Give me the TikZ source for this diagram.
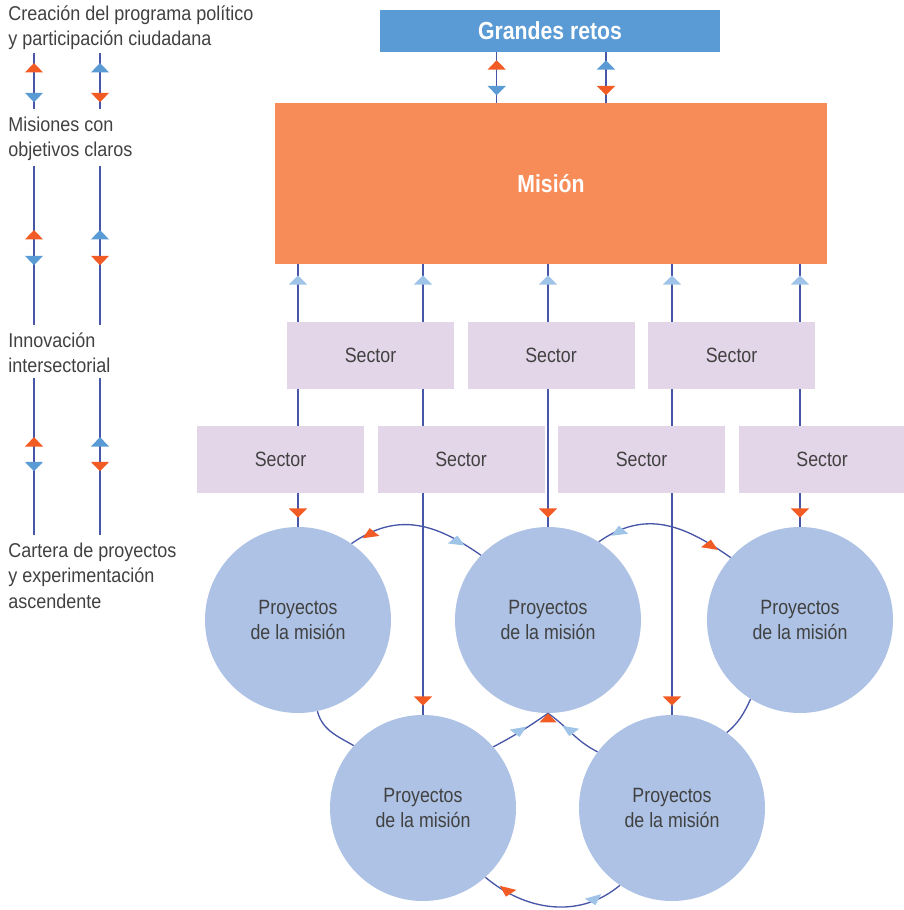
\documentclass[tikz,border=0pt]{standalone}
\usepackage{fontspec}
\setmainfont{Liberation Sans}[FakeStretch=0.86]
\usetikzlibrary{arrows.meta, positioning, backgrounds, decorations.markings}
\definecolor{retosblue}{RGB}{91,155,213}
\definecolor{misionorange}{RGB}{247,140,88}
\definecolor{sectorlila}{RGB}{228,214,233}
\definecolor{circleblue}{RGB}{173,194,228}
\definecolor{linkblue}{RGB}{72,86,168}
\definecolor{tipor}{RGB}{242,92,36}
\definecolor{tipblue}{RGB}{91,155,213}
\definecolor{tiplight}{RGB}{160,196,232}
\definecolor{textgray}{RGB}{65,65,65}

\tikzset{
	tri/.pic={\path[pic actions] (4.5,0) -- (-4.5,8.5) -- (-4.5,-8.5) -- cycle;}
}

\begin{document}
\begin{tikzpicture}[
	x=0.75pt, y=0.75pt,
	% boxes and circles
	retos/.style={
			rectangle,
			fill=retosblue,
			minimum width=255pt,
			minimum height=31.5pt,
			inner sep=0pt,
			text=white,
			font=\fontsize{18.5}{22}\selectfont\bfseries
		},
	mision/.style={
			rectangle,
			fill=misionorange,
			minimum width=414pt,
			minimum height=120.75pt,
			inner sep=0pt,
			text=white,
			font=\fontsize{18.5}{22}\selectfont\bfseries
		},
	sector/.style={
			rectangle,
			fill=sectorlila,
			minimum width=125.25pt,
			minimum height=50.25pt,
			inner sep=0pt,
			text=textgray,
			font=\fontsize{15.5}{19}\selectfont
		},
	proyecto/.style={
			circle,
			fill=circleblue,
			minimum size=139.5pt,
			inner sep=0pt,
			align=center,
			text=textgray,
			font=\fontsize{15.5}{18.75}\selectfont
		},
	side/.style={
			anchor=base west,
			align=left,
			inner sep=0pt,
			text=textgray,
			font=\addfontfeatures{FakeStretch=0.9}\fontsize{15}{19.1}\selectfont
		},
	% connectors
	link/.style={
			draw=linkblue,
			line width=1pt
		},
	twotips/.style n args={4}{
			postaction={decorate},
			decoration={markings,
					mark=at position #1 with {\arrowreversed{Triangle[width=13.5pt, length=7pt, color=#3]}},
					mark=at position #2 with {\arrow{Triangle[width=13.5pt, length=7pt, color=#4]}}}
		},
	downtips/.style={twotips={8.25pt}{-6.75pt}{tiplight}{tipor}}
	]

	\useasboundingbox (0,0) rectangle (903,-910);

	% left column labels (anchored at their last line)
	\node[side] (lab1) at (8,-45.7) {Creación del programa político\\y participación ciudadana};
	\node[side] (lab2) at (8,-156.7) {Misiones con\\objetivos claros};
	\node[side] (lab3) at (8,-372.7) {Innovación\\intersectorial};
	\node[side] (lab4) at (8,-608) {Cartera de proyectos\\y experimentación\\ascendente};
	\coordinate (colA) at (34,0);
	\coordinate (colB) at (100,0);

	% top and mission
	\node[retos] (retos) at (550,-31) {Grandes retos};
	\node[mision] (mision) at (551,-183.5) {Misión};

	% sector rows
	\node[sector] (s1) at (370.5,-355.5) {Sector};
	\node[sector, right=9.75pt of s1] (s2) {Sector};
	\node[sector, right=9.75pt of s2] (s3) {Sector};
	\node[sector] (t1) at (280.5,-459.5) {Sector};
	\node[sector, right=9.75pt of t1] (t2) {Sector};
	\node[sector, right=9.75pt of t2] (t3) {Sector};
	\node[sector, right=9.75pt of t3] (t4) {Sector};

	% mission projects
	\node[proyecto] (c1) at (298,-620) {Proyectos\\de la misión};
	\node[proyecto] (c2) at (548,-620) {Proyectos\\de la misión};
	\node[proyecto] (c3) at (800,-620) {Proyectos\\de la misión};
	\node[proyecto] (c4) at (423,-808) {Proyectos\\de la misión};
	\node[proyecto] (c5) at (672,-808) {Proyectos\\de la misión};

	\begin{scope}[on background layer]
		% left column
		\foreach \col/\ca/\cb in {colA/tipor/tipblue, colB/tipblue/tipor} {
				\draw[link, shorten <=2.25pt, shorten >=5.25pt, twotips={9.75pt}{39pt}{\ca}{\cb}] (\col |- lab1.south) -- (\col |- lab2.north);
				\draw[link, shorten <=3.75pt, shorten >=5.25pt, twotips={51.75pt}{78pt}{\ca}{\cb}] (\col |- lab2.south) -- (\col |- lab3.north);
				\draw[link, shorten <=3.75pt, shorten >=5.25pt, twotips={48pt}{73.5pt}{\ca}{\cb}] (\col |- lab3.south) -- (\col |- lab4.north);
			}

		% grandes retos <-> mision
		\draw[link, twotips={6pt}{32.25pt}{tipor}{tipblue}] ([xshift=-40pt]retos.south) -- ([xshift=-40pt]retos.south |- mision.north);
		\draw[link, twotips={6pt}{32.25pt}{tipblue}{tipor}] ([xshift=42pt]retos.south) -- ([xshift=42pt]retos.south |- mision.north);

		% mision -> projects
		\foreach \c in {c1,c2,c3,c4,c5}
		\draw[link, downtips] (\c |- mision.south) -- (\c.north);
	\end{scope}

	% links between projects
	\draw[link] (c1.55) to[out=35, in=145, looseness=1.1] coordinate[pos=.14] (a1) coordinate[pos=.82] (a2) (c2.136);
	\draw[link] (c2.57) to[out=35, in=145, looseness=1.1] coordinate[pos=.15] (a3) coordinate[pos=.85] (a4) (c3.138);
	\draw[link] (c1.282) to[out=-75, in=150] (c4.138);
	\draw[link] (c3.238) to[out=-115, in=40] (c5.54);
	\draw[link] (c4.41) to[out=28, in=215] coordinate[pos=.45] (a5) (c2.south);
	\draw[link] (c2.south) to[out=-35, in=153] coordinate[pos=.45] (a6) (c5.143);
	\draw[link] (c4.312) to[out=-40, in=-140] coordinate[pos=.17] (a7) coordinate[pos=.8] (a8) (c5.236);

	\pic[fill=tipor, rotate=98] at (a1) {tri};
	\pic[fill=tiplight, rotate=83] at (a2) {tri};
	\pic[fill=tiplight, rotate=97] at (a3) {tri};
	\pic[fill=tipor, rotate=81] at (a4) {tri};
	\pic[fill=tiplight, rotate=-80] at (a5) {tri};
	\pic[fill=tiplight, rotate=-100] at (a6) {tri};
	\pic[fill=tipor, rotate=-104] at (a7) {tri};
	\pic[fill=tiplight, rotate=-74] at (a8) {tri};
	\pic[fill=tipor, rotate=90] at ([yshift=-3.4pt]c2.south) {tri};

\end{tikzpicture}
\end{document}
